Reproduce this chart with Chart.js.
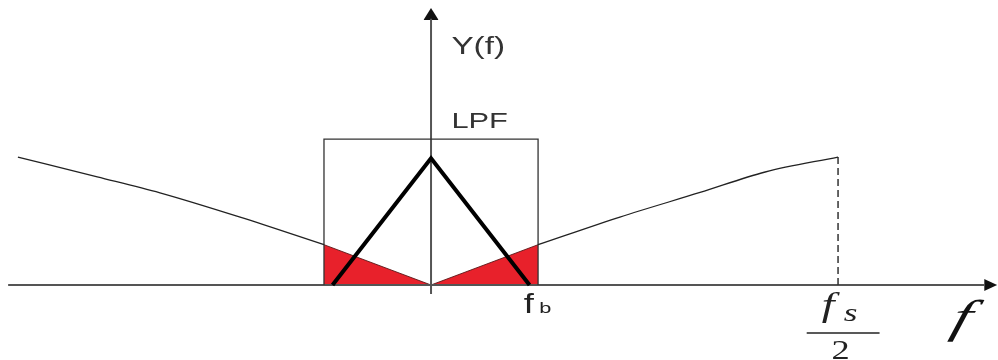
<!DOCTYPE html>
<html>
<head>
<meta charset="utf-8">
<script src="https://cdn.jsdelivr.net/npm/chart.js@4.4.1/dist/chart.umd.min.js"></script>
<style>
html,body{margin:0;padding:0;background:#fff;}
#wrap{width:998px;height:360px;position:relative;}
</style>
</head>
<body>
<div id="wrap"><canvas id="c"></canvas></div>
<script>
// ---- data (frequency in % of fs/2, magnitude in arbitrary units) ----
const noiseLeftX  = [-101.5, -82, -66.6, -46.9, -26.3];
const noiseLeftY  = [100, 84.5, 72, 53, 31.5];
const noiseRightX = [26.3, 46.4, 66.1, 82.1, 100];
const noiseRightY = [31.5, 53.1, 72.3, 88.3, 100];
const inbandX     = [-26.3, 0, 26.3];
const inbandY     = [31.5, 0, 31.5];
const lpfX        = [-26.3, -26.3, 26.3, 26.3];
const lpfY        = [0, 114, 114, 0];
const signalX     = [-24.2, 0, 24.2];
const signalY     = [0, 99, 0];
const nyquistX    = [100, 100];
const nyquistY    = [0, 100];
const xAxisX      = [-103.9, 136];
const xAxisY      = [0, 0];
const yAxisX      = [0, 0];
const yAxisY      = [-7, 208];
const yArrowX     = [-1.85, 0, 1.85];
const yArrowY     = [207, 216.4, 207];
const xArrowUpX   = [135.9, 139.1];
const xArrowUpY   = [4.7, 0];
const xArrowDnX   = [135.9, 139.1];
const xArrowDnY   = [-4.7, 0];

const pts = (xs, ys) => xs.map((x, i) => ({x, y: ys[i]}));

const base = {showLine: true, pointRadius: 0, pointHoverRadius: 0, tension: 0, fill: false};

const labelsPlugin = {
  id: 'labels',
  afterDatasetsDraw(chart) {
    const ctx = chart.ctx;
    const xs = chart.scales.x, ys = chart.scales.y;
    function txt(t, xv, yv, font, sx, color, skew) {
      const px = xs.getPixelForValue(xv), py = ys.getPixelForValue(yv);
      ctx.save();
      ctx.translate(px, py);
      ctx.transform(sx, 0, -(skew || 0), 1, 0, 0);
      ctx.font = font;
      ctx.fillStyle = color;
      ctx.textAlign = 'left';
      ctx.textBaseline = 'alphabetic';
      ctx.fillText(t, 0, 0);
      ctx.restore();
    }
    txt('Y(f)', 5.0, 180.5, '23px "Liberation Sans"', 1.45, '#333');
    txt('LPF', 5.0, 122.7, '22px "Liberation Sans"', 1.4, '#333');
    txt('f', 22.8, -21.9, '28px "Liberation Sans"', 1.3, '#222');
    txt('b', 26.6, -21.9, '15px "Liberation Sans"', 1.45, '#222');
    txt('f', 96.0, -24.0, 'italic 34px "Liberation Serif"', 1.35, '#222');
    txt('s', 101.4, -28.5, 'italic 26px "Liberation Serif"', 1.35, '#222');
    txt('2', 98.4, -57.5, '28px "Liberation Serif"', 1.3, '#222');
    txt('f', 127.3, -37.0, 'italic 46px "Liberation Serif"', 1.45, '#111', 0.28);
    // fraction bar
    const x0 = xs.getPixelForValue(92.3), x1 = xs.getPixelForValue(110.2);
    const yb = ys.getPixelForValue(-37.5);
    ctx.save();
    ctx.strokeStyle = '#222';
    ctx.lineWidth = 1.5;
    ctx.beginPath(); ctx.moveTo(x0, yb); ctx.lineTo(x1, yb); ctx.stroke();
    ctx.restore();
  }
};

new Chart(document.getElementById('c'), {
  type: 'scatter',
  data: {
    datasets: [
      {...base, data: pts(signalX, signalY), borderColor: '#000', borderWidth: 4, borderJoinStyle: 'miter', order: 1},
      {...base, data: pts(noiseLeftX, noiseLeftY), borderColor: '#222', borderWidth: 1.3, cubicInterpolationMode: 'monotone', order: 2},
      {...base, data: pts(noiseRightX, noiseRightY), borderColor: '#222', borderWidth: 1.3, cubicInterpolationMode: 'monotone', order: 2},
      {...base, data: pts(nyquistX, nyquistY), borderColor: '#333', borderWidth: 1.5, borderDash: [7, 4], order: 2},
      {...base, data: pts(lpfX, lpfY), borderColor: '#333', borderWidth: 1.3, order: 3},
      {...base, data: pts(yAxisX, yAxisY), borderColor: '#555', borderWidth: 2, order: 3},
      {...base, data: pts(xAxisX, xAxisY), borderColor: '#555', borderWidth: 2, order: 3},
      {...base, data: pts(yArrowX, yArrowY), borderWidth: 0, borderColor: 'rgba(0,0,0,0)', backgroundColor: '#111', fill: {value: 207}, order: 3},
      {...base, data: pts(xArrowUpX, xArrowUpY), borderWidth: 0, borderColor: 'rgba(0,0,0,0)', backgroundColor: '#111', fill: {value: 0}, order: 3},
      {...base, data: pts(xArrowDnX, xArrowDnY), borderWidth: 0, borderColor: 'rgba(0,0,0,0)', backgroundColor: '#111', fill: {value: 0}, order: 3},
      {...base, data: pts(inbandX, inbandY), borderColor: '#5a1515', borderWidth: 0.9, backgroundColor: '#e8212b', fill: 'origin', order: 4}
    ]
  },
  options: {
    responsive: true,
    maintainAspectRatio: false,
    animation: false,
    events: [],
    layout: {padding: 0},
    plugins: {legend: {display: false}, tooltip: {enabled: false}},
    scales: {
      x: {type: 'linear', min: -105.9, max: 139.3, display: false},
      y: {type: 'linear', min: -58.6, max: 222.7, display: false}
    }
  },
  plugins: [labelsPlugin]
});
</script>
</body>
</html>
